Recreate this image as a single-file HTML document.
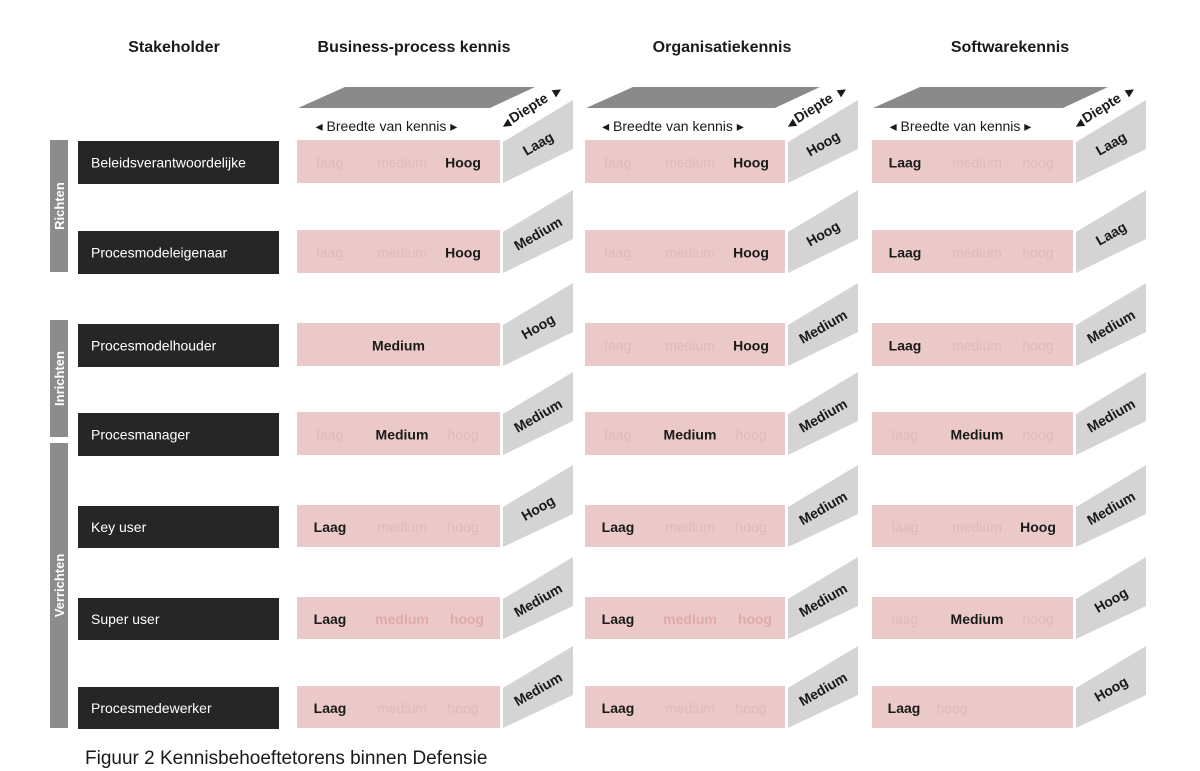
<!DOCTYPE html>
<html><head><meta charset="utf-8"><style>
html,body{margin:0;padding:0;background:#fff;}
svg{display:block;font-family:"Liberation Sans","DejaVu Sans",sans-serif;}
</style></head><body>
<svg id="s" width="1200" height="771" viewBox="0 0 1200 771" xmlns="http://www.w3.org/2000/svg">
<g font-weight="bold" font-size="16" fill="#1a1a1a" text-anchor="middle">
<text x="174" y="52">Stakeholder</text>
<text x="414" y="52">Business-process kennis</text>
<text x="722" y="52">Organisatiekennis</text>
<text x="1010" y="52">Softwarekennis</text>
</g>
<text x="85" y="764" font-size="19" fill="#1a1a1a">Figuur 2 Kennisbehoeftetorens binnen Defensie</text>
</svg>
<script>
const s=document.getElementById('s');let h='';
const rows=[[140,183],[230,273],[323,366],[412,455],[505,547],[597,639],[686,728]];
const names=['Beleidsverantwoordelijke','Procesmodeleigenaar','Procesmodelhouder','Procesmanager','Key user','Super user','Procesmedewerker'];
[['Richten',140,272],['Inrichten',320,437],['Verrichten',443,728]].forEach(b=>{
h+=`<rect x="50" y="${b[1]}" width="18" height="${b[2]-b[1]}" fill="#8c8c8c"/>`;
const cy=(b[1]+b[2])/2;h+=`<text x="59" y="${cy}" transform="rotate(-90 59 ${cy})" text-anchor="middle" dy="5" font-size="13" font-weight="bold" fill="#fff">${b[0]}</text>`;});
rows.forEach((r,i)=>{h+=`<rect x="78" y="${r[0]+1}" width="201" height="${r[1]-r[0]}" fill="#262626"/><text x="91" y="${(r[0]+r[1])/2+6}" font-size="14" fill="#fff">${names[i]}</text>`;});
const cols=[{x:297,w:203},{x:585,w:200},{x:872,w:201}];
const data=[
[['lmH','Laag'],['lmH','Medium'],['C','Hoog'],['lMh','Medium'],['Lmh','Hoog'],['LMH2','Medium'],['Lmh','Medium']],
[['lmH','Hoog'],['lmH','Hoog'],['lmH','Medium'],['lMh','Medium'],['Lmh','Medium'],['LMH2','Medium'],['Lmh','Medium']],
[['Lmh','Laag'],['Lmh','Laag'],['Lmh','Medium'],['lMh','Medium'],['lmH','Medium'],['lMh','Hoog'],['LX','Hoog']]];
cols.forEach((c,ci)=>{
const x=c.x,w=c.w,sx=x+w+3;
h+=`<polygon points="${x+1},108 ${x+w-10},108 ${x+w+35},87 ${x+48},87" fill="#8a8a8a"/>`;
h+=`<text x="${x+w/2-12}" y="131" text-anchor="middle" font-size="14" fill="#1a1a1a">◂  Breedte van kennis  ▸</text>`;
h+=`<text x="${sx+28}" y="112" transform="rotate(-32 ${sx+28} 112)" text-anchor="middle" font-size="14" font-weight="bold" fill="#1a1a1a">Diepte</text>`;
h+=`<text x="${sx+5}" y="127" transform="rotate(-32 ${sx+5} 127)" text-anchor="middle" font-size="11" fill="#1a1a1a">◀</text>`;
h+=`<text x="${sx+56}" y="94" transform="rotate(-32 ${sx+56} 94)" text-anchor="middle" font-size="11" fill="#1a1a1a">▶</text>`;
rows.forEach((r,ri)=>{
const [t,b]=r,d=data[ci][ri],cy=(t+b)/2+6;
h+=`<rect x="${x}" y="${t}" width="${w}" height="${b-t}" fill="#ebc9c9"/>`;
const f='#e2b9b9',f2='#dfaaaa',k='#1a1a1a';
const T=(xx,txt,bold,col,anc)=>h+=`<text x="${xx}" y="${cy}" text-anchor="${anc||'middle'}" font-size="14" ${bold?'font-weight="bold"':''} fill="${col}">${txt}</text>`;
const p=d[0];
if(p==='C'){T(x+w/2,'Medium',1,k);}
else if(p==='LX'){T(x+32,'Laag',1,k);T(x+80,'hoog',0,f);}
else if(p==='LMH2'){T(x+33,'Laag',1,k);T(x+105,'medium',1,f2);T(x+170,'hoog',1,f2);}
else{
T(x+33,p[0]=='L'?'Laag':'laag',p[0]=='L',p[0]=='L'?k:f);
T(x+105,p[1]=='M'?'Medium':'medium',p[1]=='M',p[1]=='M'?k:f);
T(x+166,p[2]=='H'?'Hoog':'hoog',p[2]=='H',p[2]=='H'?k:f);}
h+=`<polygon points="${sx},${t+2} ${sx+70},${t-40} ${sx+70},${t+9} ${sx},${b}" fill="#d4d4d4"/>`;
const mx=sx+35,my=(t+b)/2-18;
h+=`<text x="${mx}" y="${my}" transform="rotate(-30 ${mx} ${my})" text-anchor="middle" dy="5" font-size="14" font-weight="bold" fill="#1a1a1a">${d[1]}</text>`;
});});
s.insertAdjacentHTML('beforeend',h);
</script>
</body></html>
